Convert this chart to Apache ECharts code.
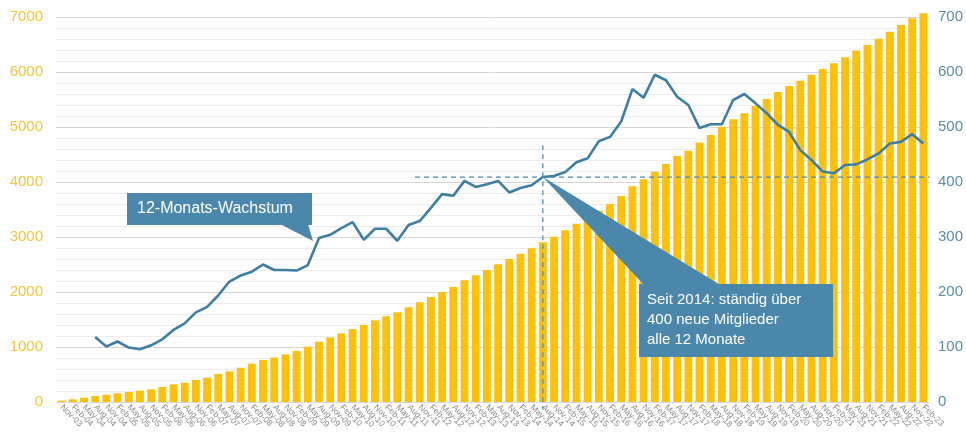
<!DOCTYPE html>
<html><head><meta charset="utf-8">
<script src="https://cdn.jsdelivr.net/npm/echarts@6/dist/echarts.min.js"></script>
<style>html,body{margin:0;padding:0;background:#fff}#c{width:966px;height:434px}</style>
</head><body><div id="c"></div>
<script>
const categories = [
 'Nov-03',
 'Feb-04','May-04','Aug-04','Nov-04','Feb-05','May-05','Aug-05','Nov-05',
 'Feb-06','May-06','Aug-06','Nov-06','Feb-07','May-07','Aug-07','Nov-07',
 'Feb-08','May-08','Aug-08','Nov-08','Feb-09','May-09','Aug-09','Nov-09',
 'Feb-10','May-10','Aug-10','Nov-10','Feb-11','May-11','Aug-11','Nov-11',
 'Feb-12','May-12','Aug-12','Nov-12','Feb-13','May-13','Aug-13','Nov-13',
 'Feb-14','May-14','Aug-14','Nov-14','Feb-15','May-15','Aug-15','Nov-15',
 'Feb-16','May-16','Aug-16','Nov-16','Feb-17','May-17','Aug-17','Nov-17',
 'Feb-18','May-18','Aug-18','Nov-18','Feb-19','May-19','Aug-19','Nov-19',
 'Feb-20','May-20','Aug-20','Nov-20','Feb-21','May-21','Aug-21','Nov-21',
 'Feb-22','May-22','Aug-22','Nov-22','Feb-23'
];
const members = [
 24,49,78,109,133,158,182,206,230,273,321,352,400,442,509,558,624,697,764,808,
 867,927,1006,1097,1176,1248,1327,1400,1485,1558,1630,1721,1812,1909,2000,2091,
 2212,2303,2400,2503,2600,2697,2794,2903,3006,3121,3242,3345,3479,3600,3745,3921,
 4048,4188,4327,4473,4570,4720,4855,5006,5139,5248,5382,5509,5636,5745,5842,5951,
 6054,6158,6267,6388,6491,6606,6733,6855,6976,7067
];
const growth12m = [
 null,null,null,118,101,110,99,96,103,114,131,143,163,173,194,219,230,237,250,240,
 240,239,249,298,304,316,327,295,315,315,293,322,329,353,378,375,402,391,396,402,
 381,389,394,409,411,418,436,443,474,482,510,569,553,595,585,555,540,498,505,505,
 549,560,543,525,504,491,458,440,419,416,431,432,441,452,470,473,487,470
];
const leftTicks = [0,1000,2000,3000,4000,5000,6000,7000];
const rightTicks = [0,100,200,300,400,500,600,700];
const markIndex = 43;      // Seit 2014
const markValue = 409;     // 400er-Linie
const callout1 = '12-Monats-Wachstum';
const callout2 = ['Seit 2014: ständig über', '400 neue Mitglieder', 'alle 12 Monate'];

const FONT = 'Liberation Sans, Arial, sans-serif';
const BLUE = '#3E7EA3';
const BOX = '#4A87AA';
const chart = echarts.init(document.getElementById('c'));
chart.setOption({
  animation: false,
  backgroundColor: '#fff',
  grid: {left: 56, right: 33, top: 17, bottom: 32, containLabel: false},
  xAxis: {
    type: 'category', data: categories,
    axisLine: {show: false}, axisTick: {show: false},
    axisLabel: {interval: 0, rotate: -45, fontSize: 8.5, color: '#8a8a8a', margin: 4, fontFamily: FONT}
  },
  yAxis: [{
    type: 'value', min: leftTicks[0], max: leftTicks[leftTicks.length-1], interval: 1000,
    axisLine: {show: false}, axisTick: {show: false},
    axisLabel: {fontSize: 15, color: '#F3C63A', margin: 13, fontFamily: FONT, formatter: v => String(v)},
    splitLine: {show: true, lineStyle: {color: '#d6d6d6', width: 1}},
    minorTick: {show: false, splitNumber: 5},
    minorSplitLine: {show: true, lineStyle: {color: '#ececec', width: 1}}
  }, {
    type: 'value', min: rightTicks[0], max: rightTicks[rightTicks.length-1], interval: 100,
    axisLine: {show: false}, axisTick: {show: false},
    axisLabel: {fontSize: 15, color: '#5A8CAB', margin: 9, fontFamily: FONT, formatter: v => String(v)},
    splitLine: {show: false}
  }],
  series: [{
    type: 'bar', data: members, yAxisIndex: 0, barWidth: '70%', clip: false,
    itemStyle: {color: '#FDC10A'}, z: 2
  }, {
    type: 'line', data: growth12m, yAxisIndex: 1, symbol: 'none', clip: false,
    lineStyle: {color: BLUE, width: 2.6}, z: 5
  }]
});

const pVert = chart.convertToPixel({xAxisIndex: 0, yAxisIndex: 1}, [markIndex, markValue]);
const pRightEnd = chart.convertToPixel({xAxisIndex: 0, yAxisIndex: 1}, [categories.length - 1, markValue]);
const pTop = chart.convertToPixel({yAxisIndex: 1}, 467);
const pBottom = chart.convertToPixel({yAxisIndex: 1}, 0);
const dash = {stroke: '#4F87A8', lineWidth: 1.2, lineDash: [5, 4]};
chart.setOption({
  graphic: [
    {type: 'line', z: 10, shape: {x1: pVert[0], y1: pTop, x2: pVert[0], y2: pBottom + 8}, style: dash},
    {type: 'line', z: 10, shape: {x1: 415, y1: pVert[1], x2: pRightEnd[0] + 6, y2: pVert[1]}, style: dash},
    {type: 'polygon', z: 20, shape: {points: [[280, 224], [308, 224], [313, 241]]}, style: {fill: BOX}},
    {type: 'rect', z: 20, shape: {x: 127, y: 193, width: 185, height: 32}, style: {fill: BOX}},
    {type: 'text', z: 21, x: 137, y: 209, style: {text: callout1, fill: '#fff', font: '16px ' + FONT, verticalAlign: 'middle'}},
    {type: 'polygon', z: 20, shape: {points: [[pVert[0], pVert[1]], [645, 286], [722, 286]]}, style: {fill: BOX}},
    {type: 'rect', z: 20, shape: {x: 639, y: 284, width: 194, height: 73}, style: {fill: BOX}},
    {type: 'text', z: 21, x: 647, y: 300, style: {text: callout2[0], fill: '#fff', font: '15px ' + FONT, verticalAlign: 'middle'}},
    {type: 'text', z: 21, x: 647, y: 320, style: {text: callout2[1], fill: '#fff', font: '15px ' + FONT, verticalAlign: 'middle'}},
    {type: 'text', z: 21, x: 647, y: 340, style: {text: callout2[2], fill: '#fff', font: '15px ' + FONT, verticalAlign: 'middle'}}
  ]
});
</script></body></html>
